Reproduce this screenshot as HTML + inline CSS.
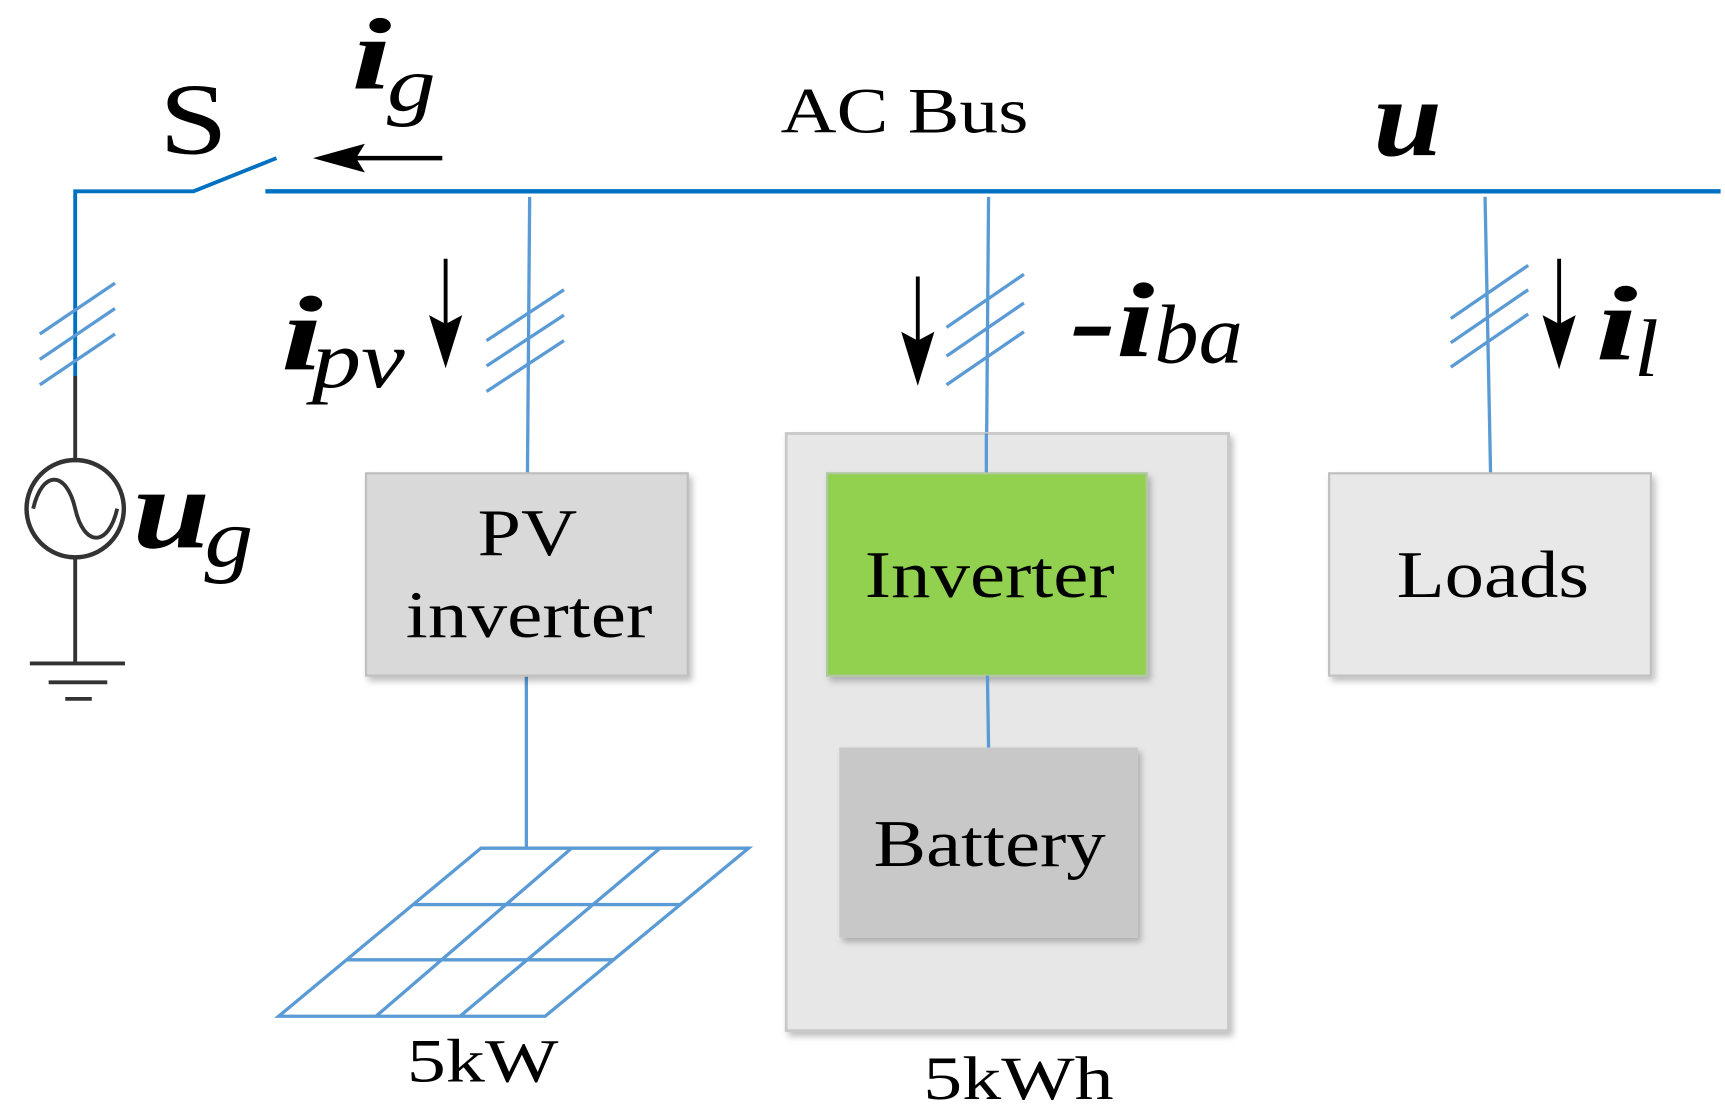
<!DOCTYPE html>
<html><head><meta charset="utf-8"><style>html,body{margin:0;padding:0;background:#fff}svg{display:block}</style></head>
<body>
<svg width="1725" height="1113" viewBox="0 0 1560 1006.5" preserveAspectRatio="none" xmlns="http://www.w3.org/2000/svg" font-family="Liberation Serif, serif">
<defs>
<filter id="sh" x="-10%" y="-10%" width="130%" height="130%"><feDropShadow dx="3" dy="4" stdDeviation="3" flood-color="#000" flood-opacity="0.25"/></filter>
</defs>
<line x1="240" y1="173" x2="1556" y2="173" stroke="#0070c0" stroke-width="4"/>
<polyline points="68,340 68,173 175,173 250,143" fill="none" stroke="#0070c0" stroke-width="3.5"/>
<line x1="68" y1="340" x2="68" y2="418" stroke="#333" stroke-width="3.5"/>
<circle cx="68" cy="460" r="44" fill="none" stroke="#333" stroke-width="4"/>
<path d="M30,460 C38,425 60,425 68,460 C76,495 98,495 106,460" fill="none" stroke="#333" stroke-width="3.5"/>
<line x1="68" y1="504" x2="68" y2="600" stroke="#333" stroke-width="3.5"/>
<line x1="27" y1="600" x2="113" y2="600" stroke="#333" stroke-width="3.5"/>
<line x1="44" y1="617" x2="97" y2="617" stroke="#333" stroke-width="3.5"/>
<line x1="59" y1="632" x2="83" y2="632" stroke="#333" stroke-width="3.5"/>
<g stroke="#5b9bd5" stroke-width="3" fill="none">
<line x1="479" y1="178" x2="477" y2="428"/>
<line x1="476" y1="611" x2="476" y2="767"/>
<line x1="894" y1="178" x2="892" y2="428"/>
<line x1="1343" y1="178" x2="1348" y2="428"/>
<line x1="36" y1="302" x2="104" y2="256"/><line x1="36" y1="325" x2="104" y2="279"/><line x1="36" y1="348" x2="104" y2="302"/>
<line x1="440" y1="308" x2="510" y2="262"/><line x1="440" y1="331" x2="510" y2="285"/><line x1="440" y1="354" x2="510" y2="308"/>
<line x1="856" y1="296" x2="926" y2="248"/><line x1="856" y1="322" x2="926" y2="274"/><line x1="856" y1="348" x2="926" y2="300"/>
<line x1="1312" y1="288" x2="1382" y2="240"/><line x1="1312" y1="310" x2="1382" y2="262"/><line x1="1312" y1="332" x2="1382" y2="284"/>
<polygon points="435,767 677,767 493,919 252,919"/>
<line x1="374" y1="818" x2="616" y2="818"/>
<line x1="313" y1="868" x2="555" y2="868"/>
<line x1="517" y1="767" x2="340" y2="919"/>
<line x1="597" y1="767" x2="416" y2="919"/>
</g>
<rect x="331" y="428" width="291" height="183" fill="#d9d9d9" stroke="#bfbfbf" stroke-width="2" filter="url(#sh)"/>
<rect x="711" y="392" width="400" height="540" fill="#e7e7e7" stroke="#c8c8c8" stroke-width="2.5" filter="url(#sh)"/>
<line x1="892" y1="392" x2="892" y2="428" stroke="#5b9bd5" stroke-width="3"/>
<rect x="748" y="428" width="289" height="183" fill="#92d050" stroke="#b0c8a0" stroke-width="2" filter="url(#sh)"/>
<line x1="893" y1="611" x2="894" y2="676" stroke="#5b9bd5" stroke-width="3"/>
<rect x="759" y="676" width="270" height="172" fill="#c8c8c8" filter="url(#sh)"/>
<rect x="1202" y="428" width="291" height="183" fill="#e8e8e8" stroke="#c0c0c0" stroke-width="2" filter="url(#sh)"/>
<g fill="#000">
<line x1="400" y1="143" x2="300" y2="143" stroke="#000" stroke-width="4"/>
<polygon points="283,143 330,130 322,143 330,156"/>
<line x1="403" y1="234" x2="403" y2="300" stroke="#000" stroke-width="3.5"/>
<polygon points="403,333 388,285 403,293 418,285"/>
<line x1="830" y1="250" x2="830" y2="315" stroke="#000" stroke-width="3.5"/>
<polygon points="830,349 815,300 830,308 845,300"/>
<line x1="1410" y1="234" x2="1410" y2="300" stroke="#000" stroke-width="3.5"/>
<polygon points="1410,334 1395,285 1410,293 1425,285"/>
</g>
<g fill="#000" lengthAdjust="spacingAndGlyphs">
<text x="144" y="139" font-size="92" textLength="62" lengthAdjust="spacingAndGlyphs">S</text>
<text x="318" y="80" font-size="92" font-weight="bold" font-style="italic" textLength="36" lengthAdjust="spacingAndGlyphs">i</text>
<text x="350" y="100" font-size="70" font-style="italic" textLength="44" lengthAdjust="spacingAndGlyphs">g</text>
<text x="706" y="120" font-size="58" textLength="224" lengthAdjust="spacingAndGlyphs">AC Bus</text>
<text x="1242" y="140" font-size="100" font-weight="bold" font-style="italic" textLength="62" lengthAdjust="spacingAndGlyphs">u</text>
<text x="120" y="495" font-size="104" font-weight="bold" font-style="italic" textLength="70" lengthAdjust="spacingAndGlyphs">u</text>
<text x="185" y="512" font-size="76" font-style="italic" textLength="44" lengthAdjust="spacingAndGlyphs">g</text>
<text x="254" y="334" font-size="96" font-weight="bold" font-style="italic" textLength="38" lengthAdjust="spacingAndGlyphs">i</text>
<text x="282" y="350" font-size="74" font-style="italic" textLength="84" lengthAdjust="spacingAndGlyphs">pv</text>
<text x="968" y="322" font-size="96" font-weight="bold" font-style="italic" textLength="76" lengthAdjust="spacingAndGlyphs">-i</text>
<text x="1044" y="328" font-size="76" font-style="italic" textLength="80" lengthAdjust="spacingAndGlyphs">ba</text>
<text x="1443" y="325" font-size="96" font-weight="bold" font-style="italic" textLength="38" lengthAdjust="spacingAndGlyphs">i</text>
<text x="1478" y="340" font-size="74" font-style="italic" textLength="22" lengthAdjust="spacingAndGlyphs">l</text>
<text x="432" y="502" font-size="60" textLength="90" lengthAdjust="spacingAndGlyphs">PV</text>
<text x="367" y="576" font-size="60" textLength="223" lengthAdjust="spacingAndGlyphs">inverter</text>
<text x="782" y="540" font-size="60" textLength="226" lengthAdjust="spacingAndGlyphs">Inverter</text>
<text x="790" y="783" font-size="60" textLength="210" lengthAdjust="spacingAndGlyphs">Battery</text>
<text x="1263" y="540" font-size="60" textLength="174" lengthAdjust="spacingAndGlyphs">Loads</text>
<text x="368" y="978" font-size="56" textLength="137" lengthAdjust="spacingAndGlyphs">5kW</text>
<text x="835" y="994" font-size="56" textLength="172" lengthAdjust="spacingAndGlyphs">5kWh</text>
</g>
</svg>
</body></html>
